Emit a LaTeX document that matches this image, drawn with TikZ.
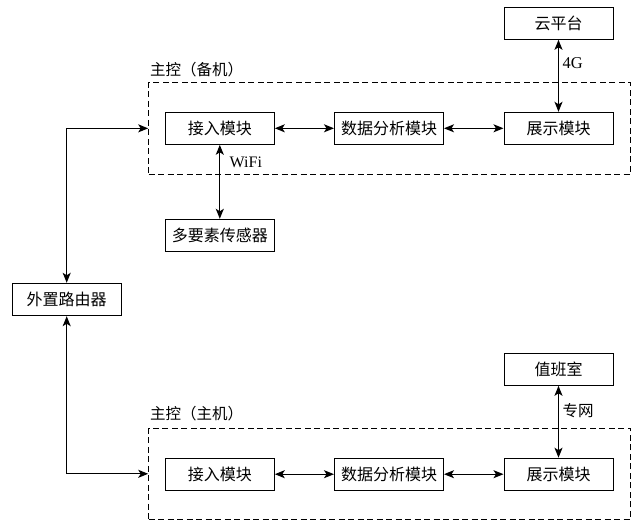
\documentclass[tikz,border=0pt]{standalone}
\usepackage{fontspec}
\setmainfont{Liberation Serif}
\newfontfamily\cjk{Noto Sans CJK SC}
\usetikzlibrary{arrows.meta}
\begin{document}
\begin{tikzpicture}[x=1pt,y=-1pt,
  box/.style={draw, line width=1pt, minimum width=109pt, minimum height=32pt, inner sep=0pt,
    font=\cjk\fontsize{16}{16}\selectfont},
  grp/.style={draw, line width=1pt, dash pattern=on 6pt off 3.5pt, inner sep=0pt},
  lbl/.style={anchor=west, inner sep=0pt},
  conn/.style={line width=1.2pt, {Stealth[length=10pt,width=8pt,inset=2.5pt]}-{Stealth[length=10pt,width=8pt,inset=2.5pt]}}
]
\useasboundingbox (0,0) rectangle (633,522);
% groups
\node[grp, minimum width=482pt, minimum height=91.3pt] (g1) at (389.7,128.35) {};
\node[grp, minimum width=482pt, minimum height=91pt] (g2) at (389.7,473.8) {};
\node[lbl, font=\cjk\fontsize{15.5}{16}\selectfont] (g1l) at (150,70) {主控（备机）};
\node[lbl, font=\cjk\fontsize{15.5}{16}\selectfont] (g2l) at (150,414) {主控（主机）};
% top row
\node[box] (acc1) at (219.8,128.3) {接入模块};
\node[box] (data1) at (389,128.3) {数据分析模块};
\node[box] (show1) at (558.5,128.3) {展示模块};
\node[box] (cloud) at (558.5,23.3) {云平台};
\node[box] (sensor) at (219.8,235.3) {多要素传感器};
% router
\node[box, minimum height=32.4pt] (router) at (66.7,299.5) {外置路由器};
% bottom row
\node[box] (acc2) at (219.8,474.2) {接入模块};
\node[box] (data2) at (389,474.2) {数据分析模块};
\node[box] (show2) at (558.5,474.2) {展示模块};
\node[box] (duty) at (558.5,369.3) {值班室};
% connectors
\draw[conn] (acc1) -- (data1);
\draw[conn] (data1) -- (show1);
\draw[conn] (show1) -- (cloud);
\draw[conn] (acc1) -- (sensor);
\draw[conn] (acc2) -- (data2);
\draw[conn] (data2) -- (show2);
\draw[conn] (show2) -- (duty);
\draw[conn] (router.north) |- (g1.west);
\draw[conn] (router.south) |- (g2.west);
% connector labels
\node[lbl, font=\fontsize{16}{16}\selectfont] (wifi) at (229.5,162) {WiFi};
\node[lbl, font=\fontsize{16.5}{16}\selectfont] (fourg) at (562.5,63) {4G};
\node[lbl, font=\cjk\fontsize{15.5}{16}\selectfont] (zw) at (562.5,410.7) {专网};
\end{tikzpicture}
\end{document}
